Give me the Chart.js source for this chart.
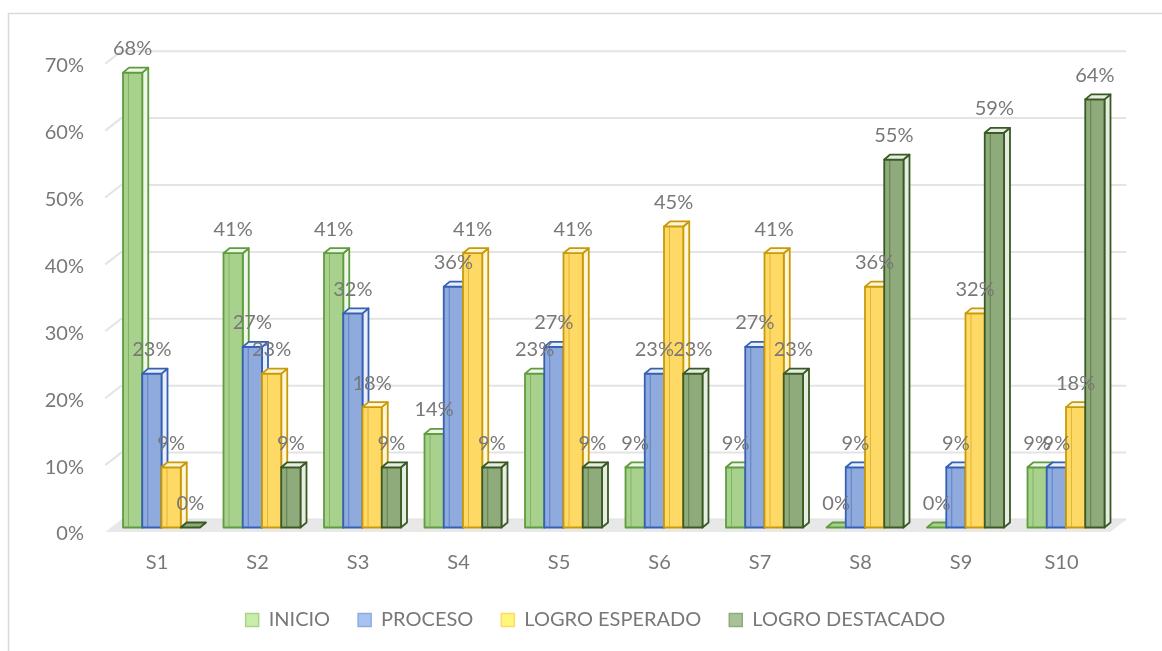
<!DOCTYPE html>
<html>
<head>
<meta charset="utf-8">
<script src="https://cdn.jsdelivr.net/npm/chart.js@4.4.1/dist/chart.umd.min.js"></script>
<style>
html,body{margin:0;padding:0;background:#fff;}
#wrap{width:1162px;height:651px;position:relative;}
canvas{display:block;}
</style>
</head>
<body>
<div id="wrap"><canvas id="c" width="1162" height="651"></canvas></div>
<script>
// ---- data ----
const CATEGORIES = ['S1','S2','S3','S4','S5','S6','S7','S8','S9','S10'];
const SERIES_NAMES = ['INICIO','PROCESO','LOGRO ESPERADO','LOGRO DESTACADO'];
const INICIO          = [68, 41, 41, 14, 23,  9,  9,  0,  0,  9];
const PROCESO         = [23, 27, 32, 36, 27, 23, 27,  9,  9,  9];
const LOGRO_ESPERADO  = [ 9, 23, 18, 41, 41, 45, 41, 36, 32, 18];
const LOGRO_DESTACADO = [ 0,  9,  9,  9,  9, 23, 23, 55, 59, 64];
const Y_MIN = 0, Y_MAX = 70, Y_STEP = 10;

// ---- styles ----
const BAR_STYLE = [
  {fill:'#a9d18e', stroke:'#5e9c3e', light:'#eef6e9'},
  {fill:'#8faadc', stroke:'#3461b6', light:'#e9eef8'},
  {fill:'#ffd966', stroke:'#c99a08', light:'#fff6da'},
  {fill:'#8fab7c', stroke:'#3a5a25', light:'#e7ede2'}
];
const LEGEND_STYLE = [
  {fill:'#c8efa9', stroke:'#a9d28c'},
  {fill:'#a7c3f2', stroke:'#8eabdc'},
  {fill:'#fff77c', stroke:'#ffd966'},
  {fill:'#a8c196', stroke:'#8fab7c'}
];
const TEXT_COLOR = '#787878';
const FONT = 'Lato';
const FONT_SIZE = 20;
const DEPTH = {dx: 6, dy: 5};
const WALL = {front: -6, dx: 16, dy: 12.5, labelShift: 4.5};
const PLOT_BOTTOM = 527.5;          // pixel of 0% on the bars' plane
const LEGEND_CENTER = {x: 595.5, y: 620};
const LEGEND_PAD = 28;

function poly(ctx, pts, fill) {
  ctx.beginPath();
  ctx.moveTo(pts[0][0], pts[0][1]);
  for (let i = 1; i < pts.length; i++) ctx.lineTo(pts[i][0], pts[i][1]);
  ctx.closePath();
  if (fill) { ctx.fillStyle = fill; ctx.fill(); }
  ctx.stroke();
}

function drawBar(ctx, x, top, base, w, st) {
  const x0 = x - w / 2, x1 = x + w / 2, dx = DEPTH.dx, dy = DEPTH.dy;
  const h = base - top;
  ctx.save();
  ctx.lineJoin = 'round';
  ctx.lineWidth = 1.8;
  ctx.strokeStyle = st.stroke;
  if (h > 0.5) {
    poly(ctx, [[x1, base], [x1 + dx, base - dy], [x1 + dx, top - dy], [x1, top]], st.light);
    ctx.fillStyle = st.fill;
    ctx.fillRect(x0, top, w, h);
    ctx.save();
    ctx.globalAlpha = 0.55;
    ctx.lineWidth = 1;
    ctx.beginPath();
    ctx.moveTo(x0 + 5.5, top + 1); ctx.lineTo(x0 + 5.5, base - 1);
    ctx.stroke();
    ctx.restore();
    ctx.strokeRect(x0, top, w, h);
  }
  poly(ctx, [[x0, top], [x0 + dx, top - dy], [x1 + dx, top - dy], [x1, top]], h > 0.5 ? st.light : st.fill);
  ctx.restore();
}

const threeD = {
  id: 'threeD',
  afterLayout(chart) {
    const lg = chart.legend;
    if (!lg) return;
    const itemH = FONT_SIZE;
    const wantTop = LEGEND_CENTER.y - LEGEND_PAD - itemH / 2;
    const dy = wantTop - lg.top;
    const dx = LEGEND_CENTER.x - (lg.left + lg.right) / 2;
    lg.top += dy; lg.bottom += dy; lg.left += dx; lg.right += dx;
  },
  beforeDraw(chart) {
    const ctx = chart.ctx;
    ctx.save();
    ctx.fillStyle = '#fff';
    ctx.fillRect(0, 0, chart.width, chart.height);
    ctx.strokeStyle = '#d9d9d9';
    ctx.lineWidth = 1.5;
    ctx.beginPath();
    ctx.moveTo(8.5, chart.height); ctx.lineTo(8.5, 13.5); ctx.lineTo(chart.width, 13.5);
    ctx.stroke();
    ctx.restore();
  },
  beforeDatasetsDraw(chart) {
    const ctx = chart.ctx, a = chart.chartArea, ys = chart.scales.y;
    ctx.save();
    const y0 = ys.getPixelForValue(0) + WALL.labelShift;
    const fl = a.left + WALL.front, fr = a.right + WALL.front;
    ctx.fillStyle = '#e8e8e8';
    ctx.beginPath();
    ctx.moveTo(fl, y0); ctx.lineTo(fr, y0);
    ctx.lineTo(fr + WALL.dx, y0 - WALL.dy); ctx.lineTo(fl + WALL.dx, y0 - WALL.dy);
    ctx.closePath(); ctx.fill();
    ctx.strokeStyle = '#e4e4e4';
    ctx.lineWidth = 2;
    ys.ticks.forEach(t => {
      const yf = ys.getPixelForValue(t.value) + WALL.labelShift;
      const yb = yf - WALL.dy;
      ctx.beginPath();
      if (t.value !== 0) { ctx.moveTo(fl, yf); ctx.lineTo(fl + WALL.dx, yb); }
      else { ctx.moveTo(fl + WALL.dx, yb); }
      ctx.lineTo(fr + WALL.dx, yb);
      ctx.stroke();
    });
    ctx.restore();
    const n = chart.data.labels.length;
    for (let i = 0; i < n; i++) {
      chart.data.datasets.forEach((ds, d) => {
        const el = chart.getDatasetMeta(d).data[i];
        drawBar(ctx, el.x, el.y, el.base, el.width, BAR_STYLE[d]);
      });
    }
    return false;
  },
  afterDraw(chart) {
    const ctx = chart.ctx;
    ctx.save();
    ctx.font = FONT_SIZE + 'px ' + FONT;
    ctx.fillStyle = TEXT_COLOR;
    ctx.textAlign = 'center';
    ctx.textBaseline = 'middle';
    chart.data.datasets.forEach((ds, d) => {
      chart.getDatasetMeta(d).data.forEach((el, i) => {
        ctx.fillText(ds.data[i] + '%', el.x, el.y - 24);
      });
    });
    ctx.restore();
  }
};

function build() {
  const seriesValues = [INICIO, PROCESO, LOGRO_ESPERADO, LOGRO_DESTACADO];
  const datasets = seriesValues.map((vals, d) => ({
    label: SERIES_NAMES[d],
    data: vals,
    backgroundColor: LEGEND_STYLE[d].fill,
    borderColor: LEGEND_STYLE[d].stroke,
    borderWidth: 1.5
  }));
  Chart.defaults.font.family = FONT;
  Chart.defaults.color = TEXT_COLOR;
  new Chart(document.getElementById('c'), {
    type: 'bar',
    data: {labels: CATEGORIES, datasets},
    options: {
      responsive: false,
      animation: false,
      devicePixelRatio: 1,
      categoryPercentage: 0.766,
      barPercentage: 1.0,
      layout: {padding: {left: 0, right: 45.75, top: 59.2, bottom: 0}},
      scales: {
        x: {
          grid: {display: false, drawTicks: false},
          border: {display: false},
          ticks: {font: {size: FONT_SIZE}, color: TEXT_COLOR, padding: 23, labelOffset: -4.5, maxRotation: 0},
          afterFit(s) {
            const lh = s.chart.legend ? s.chart.legend.height : 0;
            s.height = s.chart.height - lh - PLOT_BOTTOM;
          }
        },
        y: {
          min: Y_MIN, max: Y_MAX,
          grid: {display: false, drawTicks: false},
          border: {display: false},
          ticks: {stepSize: Y_STEP, font: {size: FONT_SIZE}, color: TEXT_COLOR, padding: 27.25, labelOffset: 6.5,
                  callback: v => v + '%'},
          afterFit(s) { s.width = 111.25; }
        }
      },
      plugins: {
        tooltip: {enabled: false},
        legend: {
          position: 'bottom',
          labels: {boxWidth: 13, boxHeight: 13, padding: LEGEND_PAD, font: {size: FONT_SIZE}, color: TEXT_COLOR}
        }
      }
    },
    plugins: [threeD]
  });
}

if (document.fonts && document.fonts.load) {
  document.fonts.load(FONT_SIZE + 'px ' + FONT).then(build, build);
} else { build(); }
</script>
</body>
</html>
